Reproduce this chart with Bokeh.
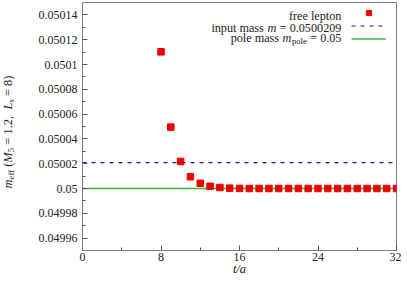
from bokeh.plotting import figure
from bokeh.layouts import row
from bokeh.models import Label, FixedTicker, Range1d, Legend, LegendItem, Div
from bokeh.embed import file_html
from bokeh.resources import INLINE

# ---------------- data ----------------
t_vals = list(range(8, 33))
m_eff = [0.0501102, 0.0500495, 0.0500218, 0.0500095, 0.0500042, 0.0500018,
         0.0500008, 0.0500003, 0.0500001, 0.0500000, 0.0500000, 0.0500000,
         0.0500000, 0.0500000, 0.0500000, 0.0500000, 0.0500000, 0.0500000,
         0.0500000, 0.0500000, 0.0500000, 0.0500000, 0.0500000, 0.0500000,
         0.0500000]
m_input = 0.0500209
m_pole = 0.05
x_lim = [0, 32]
y_lim = [0.04995, 0.05015]
x_ticks = [0, 8, 16, 24, 32]
x_minor = [4, 12, 20, 28]
y_ticks = [0.04996, 0.04998, 0.05, 0.05002, 0.05004, 0.05006, 0.05008,
           0.0501, 0.05012, 0.05014]
y_tick_labels = ["0.04996", "0.04998", "0.05", "0.05002", "0.05004",
                 "0.05006", "0.05008", "0.0501", "0.05012", "0.05014"]
y_minor = [0.04997, 0.04999, 0.05001, 0.05003, 0.05005, 0.05007, 0.05009,
           0.05011, 0.05013]

FONT = "Liberation Serif"
TXT = "#222222"
GRAY = "#808080"
RED = "#ee0000"
BLUE = "#1515d0"
GREEN = "#3cb83c"

p = figure(width=391 - 16, frame_width=314, frame_height=248,
           output_backend="svg", toolbar_location=None,
           x_range=Range1d(*x_lim), y_range=Range1d(*y_lim),
           min_border_left=56, min_border_right=5, min_border_top=2,
           min_border_bottom=0)
p.xgrid.visible = False
p.ygrid.visible = False
p.outline_line_color = GRAY
p.outline_line_width = 1
p.background_fill_color = "white"

for ax in (p.xaxis[0], p.yaxis[0]):
    ax.axis_line_color = GRAY
    ax.major_tick_in = 5
    ax.major_tick_out = 0
    ax.minor_tick_in = 3
    ax.minor_tick_out = 0
    ax.major_tick_line_color = "#555555"
    ax.minor_tick_line_color = "#555555"
    ax.major_label_text_font = FONT
    ax.major_label_text_font_size = "12px"
    ax.major_label_text_color = TXT

p.xaxis.ticker = FixedTicker(ticks=x_ticks, minor_ticks=x_minor)
p.yaxis.ticker = FixedTicker(ticks=y_ticks, minor_ticks=y_minor)
p.yaxis.major_label_overrides = {v: s for v, s in zip(y_ticks, y_tick_labels)}
p.xaxis.major_label_standoff = 2
p.yaxis.major_label_standoff = 5
p.xaxis.axis_label = "t/a"
p.xaxis.axis_label_text_font = FONT
p.xaxis.axis_label_text_font_style = "italic"
p.xaxis.axis_label_text_font_size = "12.5px"
p.xaxis.axis_label_text_color = TXT
p.xaxis.axis_label_standoff = -2

r_pole = p.line(x=x_lim, y=[m_pole, m_pole], line_color=GREEN, line_width=1.3)
r_in = p.line(x=x_lim, y=[m_input, m_input], line_color=BLUE, line_width=1.1,
              line_dash="4 5")
r_pts = p.scatter(t_vals, m_eff, marker="square", size=6.5,
                  fill_color=RED, line_color=RED)

legend = Legend(items=[LegendItem(label=" ", renderers=[r_pts]),
                       LegendItem(label=" ", renderers=[r_in]),
                       LegendItem(label=" ", renderers=[r_pole])],
                location=(269, 205), glyph_width=35, glyph_height=13,
                label_height=13, label_width=0, label_standoff=0, spacing=0,
                padding=0, margin=0, border_line_alpha=0,
                background_fill_alpha=0, label_text_font_size="6px")
p.add_layout(legend)

# ---------- rich legend text (approximate Times metrics) ----------
W = {c: 0.5 for c in "0123456789"}
W.update({".": 0.25, ",": 0.25, " ": 0.25, "=": 0.564, "(": 0.333, ")": 0.333,
          "i": 0.278, "n": 0.5, "p": 0.5, "u": 0.5, "t": 0.278, "m": 0.778,
          "a": 0.444, "s": 0.389, "o": 0.5, "l": 0.278, "e": 0.444,
          "f": 0.333, "r": 0.333})
WI = {"m": 0.722}
MAIN = 12.2
SUB = 8.6


def width(txt, kind):
    size = SUB if kind == "sub" else MAIN
    tab = WI if kind == "it" else W
    return sum(tab.get(c, W.get(c, 0.5)) for c in txt) * size


def mk(txt, kind, x, y):
    return Label(x=x, y=y, x_units="screen", y_units="screen", text=txt,
                 text_font=FONT,
                 text_font_size=f"{SUB if kind == 'sub' else MAIN}px",
                 text_font_style="italic" if kind == "it" else "normal",
                 text_color=TXT, text_align="left",
                 text_baseline="alphabetic")


def place_h(pieces, x_right, y_base):
    total = sum(width(t, k) + g for t, k, g in pieces)
    x = x_right - total
    for t, k, g in pieces:
        p.add_layout(mk(t, k, x, y_base - (3 if k == "sub" else 0)))
        x += width(t, k) + g


place_h([("free lepton", "rm", 0)], 259, 234.5)
place_h([("input mass", "rm", 3.5), ("m", "it", 3.5),
         ("= 0.0500209", "rm", 0)], 259, 222.5)
place_h([("pole mass", "rm", 3.5), ("m", "it", 0.5), ("pole", "sub", 3.5),
         ("= 0.05", "rm", 0)], 259, 212.5)

# ---------- y-axis label as rotated rich text ----------
sub = '<sub style="font-size:70%;vertical-align:-0.28em">{}</sub>'
ylabel_html = (
    '<div style="position:relative;width:16px;height:270px;">'
    '<div style="position:absolute;left:-4px;top:127px;white-space:nowrap;'
    "font-family:'Liberation Serif';font-size:12.5px;line-height:14px;"
    'color:#222;transform-origin:left top;'
    'transform:rotate(-90deg) translateX(-50%);">'
    '<i>m</i>' + sub.format('eff') + '&nbsp;(<i>M</i>' + sub.format('5') +
    '&nbsp;=&nbsp;1.2,&nbsp; <i>L</i>' + sub.format('s') +
    '&nbsp;=&nbsp;8)</div></div>')
ydiv = Div(text=ylabel_html, width=16, height=270)

layout = row(ydiv, p)
open("out.html", "w").write(file_html(layout, INLINE))
